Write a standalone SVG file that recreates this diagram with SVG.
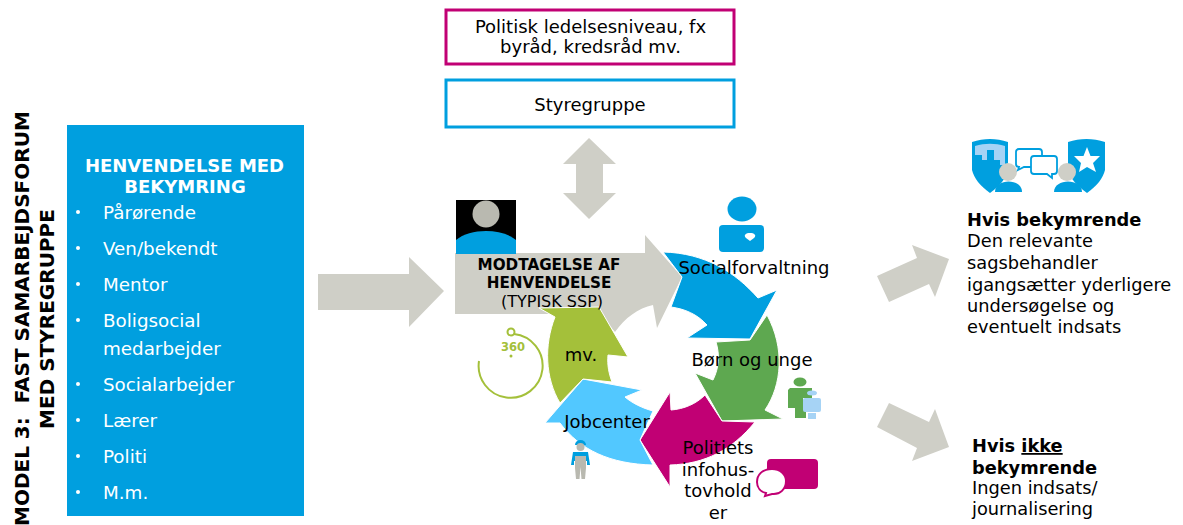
<svg xmlns="http://www.w3.org/2000/svg" width="1183" height="525" viewBox="0 0 1183 525">
<style>
text{font-family:"DejaVu Sans",Verdana,sans-serif;fill:#000}
.c{text-anchor:middle}
.b{font-weight:bold}
.m{font-size:18px}
.l{font-size:18.300px;fill:#fff}
.r{font-size:17.800px}
.g{fill:#cfcfc7}
.blue{fill:#009fdf}
.tb{fill:none;stroke-width:3}
.bub{fill:#fff;stroke:#009fdf;stroke-width:1.800}
.hd{fill:#fff;font-size:18px;font-weight:bold}
</style>
<rect width="1183" height="525" fill="#fff"/>
<g id="connectors">
<path class="g" d="M318 274H409V257L444 291 409 327V310H318Z"/>
<path class="g" d="M589 138 616 164H603V193H616L589 219 563 193H576V164H563Z"/>
<path class="g" d="M877 276 917 258 912 245 949 259 935 297 929 284 889 302Z"/>
<path class="g" d="M877 427 889 403 929 422 935 409 949 447 912 461 917 448Z"/>
<path class="g" d="M455 253H645V235L682 277 657 328 653 305C638 308 625 318 615 332L600 314H455Z"/>
<path fill="#009fdf" stroke="#fff" stroke-width="1" d="M663 252C705 253 735 272 758 298L777 290 750 339 687 338 707 325C697 314 685 309 671 307L682 277Z"/>
<path fill="#5ea850" stroke="#fff" stroke-width="1" d="M767 315C785 348 782 385 765 410L783 419 722 421 695 373 713 380C719 368 720 355 716 342L750 340Z"/>
<path fill="#c10074" stroke="#fff" stroke-width="1" d="M755 422C732 450 705 464 670 465V487L640 440 670 392 671 410C684 409 696 404 705 395L722 421Z"/>
<path fill="#52c8ff" stroke="#fff" stroke-width="1" d="M653 465C610 464 580 450 560 423H545L583 379 642 390 625 397C632 403 642 408 653 411L640 440Z"/>
<path fill="#a4c03a" stroke="#fff" stroke-width="1" d="M560 403C545 378 544 345 555 317L539 308 599 307 628 357 608 355C607 365 609 374 612 382L583 379Z"/>
</g>
<g id="node-politisk">
<rect x="446" y="10" width="288" height="54" fill="#fff" stroke="#c10074" class="tb"/>
<text class="c m" x="590.500" y="33">Politisk ledelsesniveau, fx</text>
<text class="c m" x="590.500" y="53">byråd, kredsråd mv.</text>
</g>
<g id="node-styregruppe">
<rect x="446" y="80" width="288" height="47" fill="#fff" stroke="#009fdf" class="tb"/>
<text class="c m" x="590" y="111">Styregruppe</text>
</g>
<g id="node-model">
<text class="b" transform="translate(29 526) rotate(-90)" font-size="20">MODEL 3:&#160; FAST SAMARBEJDSFORUM</text>
<text class="b c" transform="translate(54 319) rotate(-90)" font-size="20">MED STYREGRUPPE</text>
</g>
<g id="node-henvendelse">
<rect class="blue" x="67" y="125" width="237" height="391"/>
<text class="c hd" x="184.500" y="172" style="fill:#fff">HENVENDELSE MED</text>
<text class="c hd" x="185" y="193" style="fill:#fff">BEKYMRING</text>
<g fill="#fff">
<circle cx="78" cy="212" r="2"/><circle cx="78" cy="248" r="2"/><circle cx="78" cy="284" r="2"/><circle cx="78" cy="320" r="2"/><circle cx="78" cy="384" r="2"/><circle cx="78" cy="420" r="2"/><circle cx="78" cy="456" r="2"/><circle cx="78" cy="492" r="2"/>
</g>
<text class="l" x="103" y="219">Pårørende</text>
<text class="l" x="103" y="255">Ven/bekendt</text>
<text class="l" x="103" y="291">Mentor</text>
<text class="l" x="103" y="327">Boligsocial</text>
<text class="l" x="103" y="355">medarbejder</text>
<text class="l" x="103" y="391">Socialarbejder</text>
<text class="l" x="103" y="427">Lærer</text>
<text class="l" x="103" y="463">Politi</text>
<text class="l" x="103" y="499">M.m.</text>
</g>
<g id="node-modtagelse">
<rect x="456" y="200" width="60" height="54" fill="#000"/>
<circle cx="486" cy="214" r="13.500" fill="#b9b9b0"/>
<path class="blue" d="M456 254V240C470 228 502 228 516 240V254Z"/>
<text class="c b" x="549" y="270" font-size="15.200">MODTAGELSE AF</text>
<text class="c b" x="549" y="288" font-size="15.200">HENVENDELSE</text>
<text class="c" x="552" y="307" font-size="16">(TYPISK SSP)</text>
</g>
<g id="node-360">
<path d="M479 361A32 32 0 1 0 514 334" fill="none" stroke="#a4c03a" stroke-width="2"/>
<circle cx="511" cy="332" r="3.500" fill="#fff" stroke="#a4c03a" stroke-width="2"/>
<text class="c b" x="513" y="351" font-size="11.500" style="fill:#a4c03a">360</text>
<circle cx="511" cy="356" r="1.500" fill="#a4c03a"/>
</g>
<g id="node-socialforvaltning">
<ellipse class="blue" cx="742" cy="209" rx="14.500" ry="12.500"/>
<rect class="blue" x="719" y="225" width="45" height="27" rx="4"/>
<path fill="#fff" d="M750 233C746 233 743 235 746 238L750 241 754 238C757 235 754 233 750 233Z"/>
<text class="c m" x="754" y="274">Socialforvaltning</text>
</g>
<g id="node-boern">
<text class="c m" x="752" y="366">Børn og unge</text>
<ellipse cx="800" cy="382" rx="6.500" ry="4.500" fill="#5ea850"/>
<path fill="#5ea850" d="M790 388H812V398H803V409H806V418H795V408H788V390Z"/>
<ellipse cx="812" cy="393" rx="5" ry="2.500" fill="#a6d3f5"/>
<rect x="803" y="398" width="18" height="14" rx="2" fill="#a6d3f5"/>
<rect x="808" y="413" width="8" height="6" fill="#a6d3f5"/>
</g>
<g id="node-politiets">
<rect x="767" y="459" width="51" height="30" rx="4" fill="#c10074"/>
<path fill="#fff" stroke="#c10074" stroke-width="2" d="M772 469C762 469 757 475 757 482 757 488 761 492 766 493L765 496 772 494C780 495 786 489 786 481 786 474 780 469 772 469Z"/>
<text class="c m" x="718" y="454">Politiets</text>
<text class="c m" x="718" y="476">infohus-</text>
<text class="c m" x="718" y="497">tovhold</text>
<text class="c m" x="718" y="519">er</text>
</g>
<g id="node-jobcenter">
<text class="c m" x="607" y="428">Jobcenter</text>
<path fill="#009fdf" d="M575 445A5.500 5 0 0 1 586 445Z"/>
<circle cx="580.500" cy="447" r="4" fill="#b9b9b0"/>
<path fill="#009fdf" d="M573 452H588L590 465H587V461H574V465H571Z"/>
<path fill="#b9b9b0" d="M575 456H586V468L585 479H581.500L580.500 467 579.500 479H576L575 468Z"/>
</g>
<g id="node-mv">
<text class="c m" x="581" y="361">mv.</text>
</g>
<g id="node-hvis">
<path class="blue" d="M972 142C984 138 996 138 1008 142V170C1006 178 1000 186 990 193 980 186 974 178 972 170Z"/>
<path fill="#a6d3f5" d="M975 146C985 143 995 143 1005 146V165H1000V160H994V150H987V160H982V155H975Z"/>
<circle cx="1008" cy="172" r="9" fill="#cfcfc7"/>
<path class="blue" d="M995 192C995 178 1022 178 1022 192Z"/>
<path class="bub" d="M1019 149H1039Q1042 149 1042 152V164Q1042 167 1039 167H1024L1018 170 1019 167Q1016 167 1016 164V152Q1016 149 1019 149Z"/>
<path class="bub" d="M1034 156H1054Q1057 156 1057 159V171Q1057 174 1054 174H1052V178L1047 174H1034Q1031 174 1031 171V159Q1031 156 1034 156Z"/>
<path class="blue" d="M1068 142C1080 138 1093 138 1105 142V170C1103 178 1097 186 1087 193 1077 186 1070 178 1068 170Z"/>
<path fill="#fff" d="M1087 147 1090.500 156 1100 156 1093 163 1096 172 1087 167 1079 172 1081 163 1074 156 1083.500 156Z"/>
<circle cx="1067" cy="172" r="9" fill="#cfcfc7"/>
<path class="blue" d="M1054 192C1054 178 1082 178 1082 192Z"/>
<text class="b r" x="967" y="226">Hvis bekymrende</text>
<text class="r" x="967" y="247">Den relevante</text>
<text class="r" x="967" y="269">sagsbehandler</text>
<text class="r" x="967" y="291">igangsætter yderligere</text>
<text class="r" x="967" y="312">undersøgelse og</text>
<text class="r" x="967" y="333">eventuelt indsats</text>
</g>
<g id="node-hvis-ikke">
<text class="b r" x="972" y="452">Hvis <tspan text-decoration="underline">ikke</tspan></text>
<text class="b r" x="972" y="474">bekymrende</text>
<text class="r" x="972" y="494">Ingen indsats/</text>
<text class="r" x="972" y="515">journalisering</text>
</g>
</svg>
